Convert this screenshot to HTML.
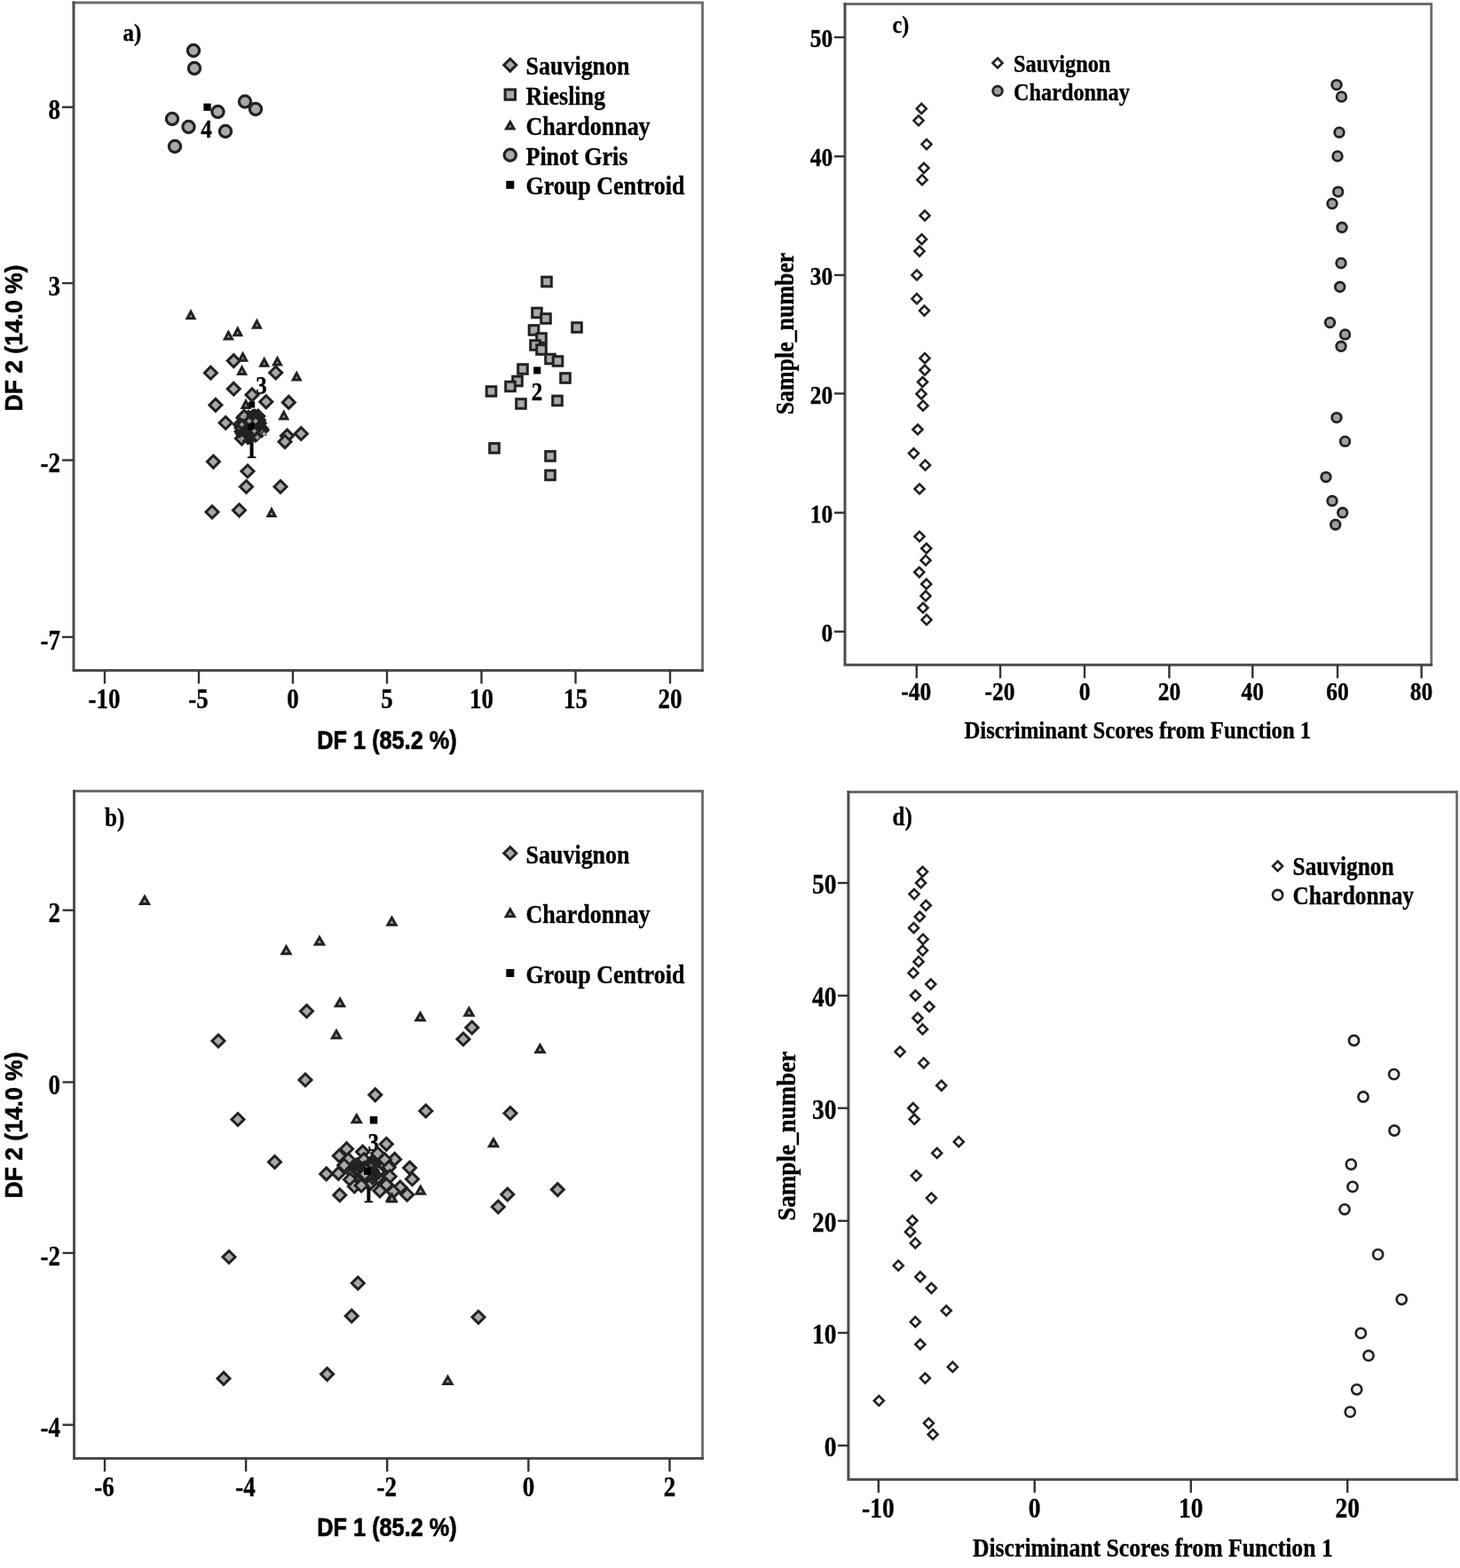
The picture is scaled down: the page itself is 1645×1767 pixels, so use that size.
<!DOCTYPE html>
<html><head><meta charset="utf-8"><title>Discriminant analysis plots</title>
<style>html,body{margin:0;padding:0;background:#fff}svg{display:block}text{fill:#000}</style></head>
<body><svg width="1645" height="1767" viewBox="0 0 1645 1767">
<rect width="1645" height="1767" fill="#fff"/>
<path d="M83 3H791.5V755.5" fill="none" stroke="#6c6c6c" stroke-width="2.8" stroke-linecap="square"/>
<path d="M83 3V755.5H791.5" fill="none" stroke="#4c4c4c" stroke-width="3.0" stroke-linecap="square"/>
<line x1="118" y1="755.5" x2="118" y2="770.5" stroke="#333" stroke-width="2.4"/>
<text transform="translate(117.5,797.5) scale(1.0,1.16)" font-size="27" text-anchor="middle" font-family="Liberation Serif, serif" font-weight="bold" stroke="#000" stroke-width="0.3">-10</text>
<line x1="224" y1="755.5" x2="224" y2="770.5" stroke="#333" stroke-width="2.4"/>
<text transform="translate(223.5,797.5) scale(1.0,1.16)" font-size="27" text-anchor="middle" font-family="Liberation Serif, serif" font-weight="bold" stroke="#000" stroke-width="0.3">-5</text>
<line x1="330" y1="755.5" x2="330" y2="770.5" stroke="#333" stroke-width="2.4"/>
<text transform="translate(330.0,797.5) scale(1.0,1.16)" font-size="27" text-anchor="middle" font-family="Liberation Serif, serif" font-weight="bold" stroke="#000" stroke-width="0.3">0</text>
<line x1="436" y1="755.5" x2="436" y2="770.5" stroke="#333" stroke-width="2.4"/>
<text transform="translate(436.0,797.5) scale(1.0,1.16)" font-size="27" text-anchor="middle" font-family="Liberation Serif, serif" font-weight="bold" stroke="#000" stroke-width="0.3">5</text>
<line x1="542.5" y1="755.5" x2="542.5" y2="770.5" stroke="#333" stroke-width="2.4"/>
<text transform="translate(542.5,797.5) scale(1.0,1.16)" font-size="27" text-anchor="middle" font-family="Liberation Serif, serif" font-weight="bold" stroke="#000" stroke-width="0.3">10</text>
<line x1="648.5" y1="755.5" x2="648.5" y2="770.5" stroke="#333" stroke-width="2.4"/>
<text transform="translate(648.5,797.5) scale(1.0,1.16)" font-size="27" text-anchor="middle" font-family="Liberation Serif, serif" font-weight="bold" stroke="#000" stroke-width="0.3">15</text>
<line x1="755" y1="755.5" x2="755" y2="770.5" stroke="#333" stroke-width="2.4"/>
<text transform="translate(755.0,797.5) scale(1.0,1.16)" font-size="27" text-anchor="middle" font-family="Liberation Serif, serif" font-weight="bold" stroke="#000" stroke-width="0.3">20</text>
<line x1="70" y1="120.75" x2="83" y2="120.75" stroke="#333" stroke-width="2.4"/>
<text transform="translate(68.0,134.3) scale(1.0,1.16)" font-size="27" text-anchor="end" font-family="Liberation Serif, serif" font-weight="bold" stroke="#000" stroke-width="0.3">8</text>
<line x1="70" y1="319.1" x2="83" y2="319.1" stroke="#333" stroke-width="2.4"/>
<text transform="translate(68.0,332.7) scale(1.0,1.16)" font-size="27" text-anchor="end" font-family="Liberation Serif, serif" font-weight="bold" stroke="#000" stroke-width="0.3">3</text>
<line x1="70" y1="518.6" x2="83" y2="518.6" stroke="#333" stroke-width="2.4"/>
<text transform="translate(68.0,532.2) scale(1.0,1.16)" font-size="27" text-anchor="end" font-family="Liberation Serif, serif" font-weight="bold" stroke="#000" stroke-width="0.3">-2</text>
<line x1="70" y1="717.9" x2="83" y2="717.9" stroke="#333" stroke-width="2.4"/>
<text transform="translate(68.0,731.5) scale(1.0,1.16)" font-size="27" text-anchor="end" font-family="Liberation Serif, serif" font-weight="bold" stroke="#000" stroke-width="0.3">-7</text>
<text transform="translate(138.5,46.1) scale(1.0,1.12)" font-size="25" text-anchor="start" font-family="Liberation Serif, serif" font-weight="bold" stroke="#000" stroke-width="0.3">a)</text>
<text transform="translate(232.4,154.7) scale(1.0,1.22)" font-size="25" text-anchor="middle" font-family="Liberation Serif, serif" font-weight="bold" stroke="#000" stroke-width="0.3">4</text>
<text transform="translate(605.0,450.8) scale(1.0,1.22)" font-size="25" text-anchor="middle" font-family="Liberation Serif, serif" font-weight="bold" stroke="#000" stroke-width="0.3">2</text>
<text transform="translate(294.5,444.0) scale(1.0,1.22)" font-size="25" text-anchor="middle" font-family="Liberation Serif, serif" font-weight="bold" stroke="#000" stroke-width="0.3">3</text>
<text transform="translate(283.3,516.0) scale(1.0,1.22)" font-size="25" text-anchor="middle" font-family="Liberation Serif, serif" font-weight="bold" stroke="#000" stroke-width="0.3">1</text>
<circle cx="218.0" cy="57.0" r="6.6" fill="#a9a9a9" stroke="#222" stroke-width="3.2"/>
<circle cx="219.0" cy="77.0" r="6.6" fill="#a9a9a9" stroke="#222" stroke-width="3.2"/>
<circle cx="276.0" cy="114.5" r="6.6" fill="#a9a9a9" stroke="#222" stroke-width="3.2"/>
<circle cx="288.0" cy="123.0" r="6.6" fill="#a9a9a9" stroke="#222" stroke-width="3.2"/>
<circle cx="245.5" cy="126.0" r="6.6" fill="#a9a9a9" stroke="#222" stroke-width="3.2"/>
<circle cx="194.0" cy="134.0" r="6.6" fill="#a9a9a9" stroke="#222" stroke-width="3.2"/>
<circle cx="212.5" cy="143.0" r="6.6" fill="#a9a9a9" stroke="#222" stroke-width="3.2"/>
<circle cx="254.0" cy="148.0" r="6.6" fill="#a9a9a9" stroke="#222" stroke-width="3.2"/>
<circle cx="197.0" cy="165.0" r="6.6" fill="#a9a9a9" stroke="#222" stroke-width="3.2"/>
<rect x="229.4" y="116.6" width="8.3" height="8.3" fill="#000"/>
<rect x="610.7" y="312.2" width="10.6" height="10.6" fill="#a9a9a9" stroke="#222" stroke-width="3.0"/>
<rect x="599.7" y="347.2" width="10.6" height="10.6" fill="#a9a9a9" stroke="#222" stroke-width="3.0"/>
<rect x="609.7" y="353.7" width="10.6" height="10.6" fill="#a9a9a9" stroke="#222" stroke-width="3.0"/>
<rect x="644.7" y="363.7" width="10.6" height="10.6" fill="#a9a9a9" stroke="#222" stroke-width="3.0"/>
<rect x="596.2" y="366.7" width="10.6" height="10.6" fill="#a9a9a9" stroke="#222" stroke-width="3.0"/>
<rect x="604.7" y="375.7" width="10.6" height="10.6" fill="#a9a9a9" stroke="#222" stroke-width="3.0"/>
<rect x="597.7" y="383.7" width="10.6" height="10.6" fill="#a9a9a9" stroke="#222" stroke-width="3.0"/>
<rect x="604.7" y="388.7" width="10.6" height="10.6" fill="#a9a9a9" stroke="#222" stroke-width="3.0"/>
<rect x="614.7" y="399.2" width="10.6" height="10.6" fill="#a9a9a9" stroke="#222" stroke-width="3.0"/>
<rect x="623.2" y="401.7" width="10.6" height="10.6" fill="#a9a9a9" stroke="#222" stroke-width="3.0"/>
<rect x="583.7" y="410.7" width="10.6" height="10.6" fill="#a9a9a9" stroke="#222" stroke-width="3.0"/>
<rect x="631.7" y="420.7" width="10.6" height="10.6" fill="#a9a9a9" stroke="#222" stroke-width="3.0"/>
<rect x="577.7" y="424.2" width="10.6" height="10.6" fill="#a9a9a9" stroke="#222" stroke-width="3.0"/>
<rect x="569.7" y="430.2" width="10.6" height="10.6" fill="#a9a9a9" stroke="#222" stroke-width="3.0"/>
<rect x="548.2" y="435.7" width="10.6" height="10.6" fill="#a9a9a9" stroke="#222" stroke-width="3.0"/>
<rect x="581.7" y="449.7" width="10.6" height="10.6" fill="#a9a9a9" stroke="#222" stroke-width="3.0"/>
<rect x="622.7" y="446.2" width="10.6" height="10.6" fill="#a9a9a9" stroke="#222" stroke-width="3.0"/>
<rect x="551.7" y="499.7" width="10.6" height="10.6" fill="#a9a9a9" stroke="#222" stroke-width="3.0"/>
<rect x="614.7" y="508.7" width="10.6" height="10.6" fill="#a9a9a9" stroke="#222" stroke-width="3.0"/>
<rect x="614.7" y="530.2" width="10.6" height="10.6" fill="#a9a9a9" stroke="#222" stroke-width="3.0"/>
<rect x="601.2" y="413.4" width="8.1" height="8.1" fill="#000"/>
<path d="M215.0 351.3L219.0 358.8L211.0 358.8Z" fill="#a9a9a9" stroke="#222" stroke-width="3.0" stroke-linejoin="miter"/>
<path d="M289.4 361.7L293.4 369.2L285.4 369.2Z" fill="#a9a9a9" stroke="#222" stroke-width="3.0" stroke-linejoin="miter"/>
<path d="M267.8 370.2L271.8 377.7L263.8 377.7Z" fill="#a9a9a9" stroke="#222" stroke-width="3.0" stroke-linejoin="miter"/>
<path d="M257.4 374.4L261.4 381.9L253.4 381.9Z" fill="#a9a9a9" stroke="#222" stroke-width="3.0" stroke-linejoin="miter"/>
<path d="M273.6 398.7L277.6 406.2L269.6 406.2Z" fill="#a9a9a9" stroke="#222" stroke-width="3.0" stroke-linejoin="miter"/>
<path d="M297.7 404.8L301.7 412.3L293.7 412.3Z" fill="#a9a9a9" stroke="#222" stroke-width="3.0" stroke-linejoin="miter"/>
<path d="M312.5 403.6L316.5 411.1L308.5 411.1Z" fill="#a9a9a9" stroke="#222" stroke-width="3.0" stroke-linejoin="miter"/>
<path d="M272.6 413.9L276.6 421.4L268.6 421.4Z" fill="#a9a9a9" stroke="#222" stroke-width="3.0" stroke-linejoin="miter"/>
<path d="M334.2 420.6L338.2 428.1L330.2 428.1Z" fill="#a9a9a9" stroke="#222" stroke-width="3.0" stroke-linejoin="miter"/>
<path d="M319.8 464.4L323.8 471.9L315.8 471.9Z" fill="#a9a9a9" stroke="#222" stroke-width="3.0" stroke-linejoin="miter"/>
<path d="M277.0 452.0L281.0 459.5L273.0 459.5Z" fill="#a9a9a9" stroke="#222" stroke-width="3.0" stroke-linejoin="miter"/>
<path d="M306.0 574.0L310.0 581.5L302.0 581.5Z" fill="#a9a9a9" stroke="#222" stroke-width="3.0" stroke-linejoin="miter"/>
<path d="M263.3 399.6L270.3 406.6L263.3 413.6L256.3 406.6Z" fill="#a9a9a9" stroke="#222" stroke-width="3.0" stroke-linejoin="miter"/>
<path d="M237.4 413.2L244.4 420.2L237.4 427.2L230.4 420.2Z" fill="#a9a9a9" stroke="#222" stroke-width="3.0" stroke-linejoin="miter"/>
<path d="M310.7 413.0L317.7 420.0L310.7 427.0L303.7 420.0Z" fill="#a9a9a9" stroke="#222" stroke-width="3.0" stroke-linejoin="miter"/>
<path d="M263.3 431.2L270.3 438.2L263.3 445.2L256.3 438.2Z" fill="#a9a9a9" stroke="#222" stroke-width="3.0" stroke-linejoin="miter"/>
<path d="M284.0 437.9L291.0 444.9L284.0 451.9L277.0 444.9Z" fill="#a9a9a9" stroke="#222" stroke-width="3.0" stroke-linejoin="miter"/>
<path d="M299.8 445.8L306.8 452.8L299.8 459.8L292.8 452.8Z" fill="#a9a9a9" stroke="#222" stroke-width="3.0" stroke-linejoin="miter"/>
<path d="M325.3 446.4L332.3 453.4L325.3 460.4L318.3 453.4Z" fill="#a9a9a9" stroke="#222" stroke-width="3.0" stroke-linejoin="miter"/>
<path d="M242.9 449.4L249.9 456.4L242.9 463.4L235.9 456.4Z" fill="#a9a9a9" stroke="#222" stroke-width="3.0" stroke-linejoin="miter"/>
<path d="M254.2 469.5L261.2 476.5L254.2 483.5L247.2 476.5Z" fill="#a9a9a9" stroke="#222" stroke-width="3.0" stroke-linejoin="miter"/>
<path d="M339.3 481.7L346.3 488.7L339.3 495.7L332.3 488.7Z" fill="#a9a9a9" stroke="#222" stroke-width="3.0" stroke-linejoin="miter"/>
<path d="M323.5 484.1L330.5 491.1L323.5 498.1L316.5 491.1Z" fill="#a9a9a9" stroke="#222" stroke-width="3.0" stroke-linejoin="miter"/>
<path d="M321.0 490.8L328.0 497.8L321.0 504.8L314.0 497.8Z" fill="#a9a9a9" stroke="#222" stroke-width="3.0" stroke-linejoin="miter"/>
<path d="M272.4 487.1L279.4 494.1L272.4 501.1L265.4 494.1Z" fill="#a9a9a9" stroke="#222" stroke-width="3.0" stroke-linejoin="miter"/>
<path d="M240.4 513.3L247.4 520.3L240.4 527.3L233.4 520.3Z" fill="#a9a9a9" stroke="#222" stroke-width="3.0" stroke-linejoin="miter"/>
<path d="M279.0 524.0L286.0 531.0L279.0 538.0L272.0 531.0Z" fill="#a9a9a9" stroke="#222" stroke-width="3.0" stroke-linejoin="miter"/>
<path d="M277.5 541.5L284.5 548.5L277.5 555.5L270.5 548.5Z" fill="#a9a9a9" stroke="#222" stroke-width="3.0" stroke-linejoin="miter"/>
<path d="M316.0 541.5L323.0 548.5L316.0 555.5L309.0 548.5Z" fill="#a9a9a9" stroke="#222" stroke-width="3.0" stroke-linejoin="miter"/>
<path d="M239.0 570.0L246.0 577.0L239.0 584.0L232.0 577.0Z" fill="#a9a9a9" stroke="#222" stroke-width="3.0" stroke-linejoin="miter"/>
<path d="M269.5 568.0L276.5 575.0L269.5 582.0L262.5 575.0Z" fill="#a9a9a9" stroke="#222" stroke-width="3.0" stroke-linejoin="miter"/>
<path d="M281.1 482.4L285.1 489.9L277.1 489.9Z" fill="#a9a9a9" stroke="#222" stroke-width="3.0" stroke-linejoin="miter"/>
<path d="M281.3 470.4L288.3 477.4L281.3 484.4L274.3 477.4Z" fill="#a9a9a9" stroke="#222" stroke-width="3.0" stroke-linejoin="miter"/>
<path d="M275.2 471.6L282.2 478.6L275.2 485.6L268.2 478.6Z" fill="#a9a9a9" stroke="#222" stroke-width="3.0" stroke-linejoin="miter"/>
<path d="M292.8 477.1L299.8 484.1L292.8 491.1L285.8 484.1Z" fill="#a9a9a9" stroke="#222" stroke-width="3.0" stroke-linejoin="miter"/>
<path d="M292.5 475.7L299.5 482.7L292.5 489.7L285.5 482.7Z" fill="#a9a9a9" stroke="#222" stroke-width="3.0" stroke-linejoin="miter"/>
<path d="M287.3 479.3L291.3 486.8L283.3 486.8Z" fill="#a9a9a9" stroke="#222" stroke-width="3.0" stroke-linejoin="miter"/>
<path d="M272.2 479.3L279.2 486.3L272.2 493.3L265.2 486.3Z" fill="#a9a9a9" stroke="#222" stroke-width="3.0" stroke-linejoin="miter"/>
<path d="M288.2 478.1L295.2 485.1L288.2 492.1L281.2 485.1Z" fill="#a9a9a9" stroke="#222" stroke-width="3.0" stroke-linejoin="miter"/>
<path d="M274.0 463.7L281.0 470.7L274.0 477.7L267.0 470.7Z" fill="#a9a9a9" stroke="#222" stroke-width="3.0" stroke-linejoin="miter"/>
<path d="M275.7 469.4L282.7 476.4L275.7 483.4L268.7 476.4Z" fill="#a9a9a9" stroke="#222" stroke-width="3.0" stroke-linejoin="miter"/>
<path d="M286.5 477.1L290.5 484.6L282.5 484.6Z" fill="#a9a9a9" stroke="#222" stroke-width="3.0" stroke-linejoin="miter"/>
<path d="M288.2 467.6L295.2 474.6L288.2 481.6L281.2 474.6Z" fill="#a9a9a9" stroke="#222" stroke-width="3.0" stroke-linejoin="miter"/>
<path d="M286.5 477.3L293.5 484.3L286.5 491.3L279.5 484.3Z" fill="#a9a9a9" stroke="#222" stroke-width="3.0" stroke-linejoin="miter"/>
<path d="M279.0 485.3L286.0 492.3L279.0 499.3L272.0 492.3Z" fill="#a9a9a9" stroke="#222" stroke-width="3.0" stroke-linejoin="miter"/>
<path d="M288.0 483.2L295.0 490.2L288.0 497.2L281.0 490.2Z" fill="#a9a9a9" stroke="#222" stroke-width="3.0" stroke-linejoin="miter"/>
<path d="M278.0 471.0L282.0 478.5L274.0 478.5Z" fill="#a9a9a9" stroke="#222" stroke-width="3.0" stroke-linejoin="miter"/>
<path d="M280.1 472.5L287.1 479.5L280.1 486.5L273.1 479.5Z" fill="#a9a9a9" stroke="#222" stroke-width="3.0" stroke-linejoin="miter"/>
<path d="M289.4 475.8L296.4 482.8L289.4 489.8L282.4 482.8Z" fill="#a9a9a9" stroke="#222" stroke-width="3.0" stroke-linejoin="miter"/>
<path d="M279.6 465.2L286.6 472.2L279.6 479.2L272.6 472.2Z" fill="#a9a9a9" stroke="#222" stroke-width="3.0" stroke-linejoin="miter"/>
<path d="M279.3 483.4L286.3 490.4L279.3 497.4L272.3 490.4Z" fill="#a9a9a9" stroke="#222" stroke-width="3.0" stroke-linejoin="miter"/>
<path d="M276.2 479.7L280.2 487.2L272.2 487.2Z" fill="#a9a9a9" stroke="#222" stroke-width="3.0" stroke-linejoin="miter"/>
<path d="M286.7 462.2L293.7 469.2L286.7 476.2L279.7 469.2Z" fill="#a9a9a9" stroke="#222" stroke-width="3.0" stroke-linejoin="miter"/>
<path d="M283.9 484.1L290.9 491.1L283.9 498.1L276.9 491.1Z" fill="#a9a9a9" stroke="#222" stroke-width="3.0" stroke-linejoin="miter"/>
<path d="M270.6 471.4L277.6 478.4L270.6 485.4L263.6 478.4Z" fill="#a9a9a9" stroke="#222" stroke-width="3.0" stroke-linejoin="miter"/>
<path d="M282.5 466.1L289.5 473.1L282.5 480.1L275.5 473.1Z" fill="#a9a9a9" stroke="#222" stroke-width="3.0" stroke-linejoin="miter"/>
<path d="M288.3 476.9L292.3 484.4L284.3 484.4Z" fill="#a9a9a9" stroke="#222" stroke-width="3.0" stroke-linejoin="miter"/>
<path d="M272.9 479.5L279.9 486.5L272.9 493.5L265.9 486.5Z" fill="#a9a9a9" stroke="#222" stroke-width="3.0" stroke-linejoin="miter"/>
<path d="M289.2 481.5L296.2 488.5L289.2 495.5L282.2 488.5Z" fill="#a9a9a9" stroke="#222" stroke-width="3.0" stroke-linejoin="miter"/>
<path d="M294.6 476.3L301.6 483.3L294.6 490.3L287.6 483.3Z" fill="#a9a9a9" stroke="#222" stroke-width="3.0" stroke-linejoin="miter"/>
<path d="M284.5 462.9L291.5 469.9L284.5 476.9L277.5 469.9Z" fill="#a9a9a9" stroke="#222" stroke-width="3.0" stroke-linejoin="miter"/>
<path d="M289.1 472.0L293.1 479.5L285.1 479.5Z" fill="#a9a9a9" stroke="#222" stroke-width="3.0" stroke-linejoin="miter"/>
<path d="M279.9 463.3L286.9 470.3L279.9 477.3L272.9 470.3Z" fill="#a9a9a9" stroke="#222" stroke-width="3.0" stroke-linejoin="miter"/>
<path d="M275.2 468.9L282.2 475.9L275.2 482.9L268.2 475.9Z" fill="#a9a9a9" stroke="#222" stroke-width="3.0" stroke-linejoin="miter"/>
<path d="M290.8 462.0L297.8 469.0L290.8 476.0L283.8 469.0Z" fill="#a9a9a9" stroke="#222" stroke-width="3.0" stroke-linejoin="miter"/>
<path d="M272.2 475.3L279.2 482.3L272.2 489.3L265.2 482.3Z" fill="#a9a9a9" stroke="#222" stroke-width="3.0" stroke-linejoin="miter"/>
<path d="M294.4 481.9L298.4 489.4L290.4 489.4Z" fill="#a9a9a9" stroke="#222" stroke-width="3.0" stroke-linejoin="miter"/>
<path d="M275.1 462.4L282.1 469.4L275.1 476.4L268.1 469.4Z" fill="#a9a9a9" stroke="#222" stroke-width="3.0" stroke-linejoin="miter"/>
<path d="M286.8 466.8L293.8 473.8L286.8 480.8L279.8 473.8Z" fill="#a9a9a9" stroke="#222" stroke-width="3.0" stroke-linejoin="miter"/>
<path d="M274.9 481.0L281.9 488.0L274.9 495.0L267.9 488.0Z" fill="#a9a9a9" stroke="#222" stroke-width="3.0" stroke-linejoin="miter"/>
<path d="M292.9 474.8L299.9 481.8L292.9 488.8L285.9 481.8Z" fill="#a9a9a9" stroke="#222" stroke-width="3.0" stroke-linejoin="miter"/>
<path d="M285.9 481.7L289.9 489.2L281.9 489.2Z" fill="#a9a9a9" stroke="#222" stroke-width="3.0" stroke-linejoin="miter"/>
<path d="M294.9 477.9L301.9 484.9L294.9 491.9L287.9 484.9Z" fill="#a9a9a9" stroke="#222" stroke-width="3.0" stroke-linejoin="miter"/>
<path d="M288.3 478.6L295.3 485.6L288.3 492.6L281.3 485.6Z" fill="#a9a9a9" stroke="#222" stroke-width="3.0" stroke-linejoin="miter"/>
<path d="M273.4 481.8L280.4 488.8L273.4 495.8L266.4 488.8Z" fill="#a9a9a9" stroke="#222" stroke-width="3.0" stroke-linejoin="miter"/>
<path d="M291.7 478.1L298.7 485.1L291.7 492.1L284.7 485.1Z" fill="#a9a9a9" stroke="#222" stroke-width="3.0" stroke-linejoin="miter"/>
<path d="M271.0 473.5L275.0 481.0L267.0 481.0Z" fill="#a9a9a9" stroke="#222" stroke-width="3.0" stroke-linejoin="miter"/>
<path d="M287.8 462.9L294.8 469.9L287.8 476.9L280.8 469.9Z" fill="none" stroke="#222" stroke-width="3.0" stroke-linejoin="miter"/>
<path d="M282.2 480.6L289.2 487.6L282.2 494.6L275.2 487.6Z" fill="none" stroke="#222" stroke-width="3.0" stroke-linejoin="miter"/>
<path d="M277.0 481.7L284.0 488.7L277.0 495.7L270.0 488.7Z" fill="none" stroke="#222" stroke-width="3.0" stroke-linejoin="miter"/>
<path d="M287.6 471.8L294.6 478.8L287.6 485.8L280.6 478.8Z" fill="none" stroke="#222" stroke-width="3.0" stroke-linejoin="miter"/>
<path d="M285.9 478.2L292.9 485.2L285.9 492.2L278.9 485.2Z" fill="none" stroke="#222" stroke-width="3.0" stroke-linejoin="miter"/>
<path d="M284.3 481.3L291.3 488.3L284.3 495.3L277.3 488.3Z" fill="none" stroke="#222" stroke-width="3.0" stroke-linejoin="miter"/>
<path d="M278.7 469.7L285.7 476.7L278.7 483.7L271.7 476.7Z" fill="none" stroke="#222" stroke-width="3.0" stroke-linejoin="miter"/>
<path d="M290.6 473.2L297.6 480.2L290.6 487.2L283.6 480.2Z" fill="none" stroke="#222" stroke-width="3.0" stroke-linejoin="miter"/>
<path d="M277.9 479.6L284.9 486.6L277.9 493.6L270.9 486.6Z" fill="none" stroke="#222" stroke-width="3.0" stroke-linejoin="miter"/>
<path d="M292.2 470.1L299.2 477.1L292.2 484.1L285.2 477.1Z" fill="none" stroke="#222" stroke-width="3.0" stroke-linejoin="miter"/>
<path d="M274.9 472.1L281.9 479.1L274.9 486.1L267.9 479.1Z" fill="none" stroke="#222" stroke-width="3.0" stroke-linejoin="miter"/>
<path d="M282.4 470.5L289.4 477.5L282.4 484.5L275.4 477.5Z" fill="none" stroke="#222" stroke-width="3.0" stroke-linejoin="miter"/>
<path d="M291.3 466.7L298.3 473.7L291.3 480.7L284.3 473.7Z" fill="none" stroke="#222" stroke-width="3.0" stroke-linejoin="miter"/>
<path d="M290.4 465.4L297.4 472.4L290.4 479.4L283.4 472.4Z" fill="none" stroke="#222" stroke-width="3.0" stroke-linejoin="miter"/>
<rect x="279.0" y="477.0" width="8" height="8" fill="#000"/>
<rect x="280.2" y="452.5" width="7" height="7" fill="#000"/>
<path d="M275 467.0L277.8 469.8L275 472.6L272.2 469.8Z" fill="#9a9a9a"/>
<path d="M280.8 471.8L283.6 474.6L280.8 477.40000000000003L278.0 474.6Z" fill="#9a9a9a"/>
<path d="M288 471.8L290.8 474.6L288 477.40000000000003L285.2 474.6Z" fill="#9a9a9a"/>
<path d="M272.6 475.7L275.40000000000003 478.5L272.6 481.3L269.8 478.5Z" fill="#9a9a9a"/>
<path d="M286.5 482.9L289.3 485.7L286.5 488.5L283.7 485.7Z" fill="#9a9a9a"/>
<path d="M289.9 490.09999999999997L292.7 492.9L289.9 495.7L287.09999999999997 492.9Z" fill="#9a9a9a"/>
<path d="M297.6 486.2L300.40000000000003 489L297.6 491.8L294.8 489Z" fill="#9a9a9a"/>
<path d="M272.6 491.5L275.40000000000003 494.3L272.6 497.1L269.8 494.3Z" fill="#9a9a9a"/>
<path d="M574.8 66.3L581.8 73.3L574.8 80.3L567.8 73.3Z" fill="#a9a9a9" stroke="#222" stroke-width="3.0" stroke-linejoin="miter"/>
<rect x="569.1" y="100.9" width="11.4" height="11.4" fill="#a9a9a9" stroke="#222" stroke-width="3.0"/>
<path d="M574.8 137.5L579.0 145.0L570.5 145.0Z" fill="#a9a9a9" stroke="#222" stroke-width="3.0" stroke-linejoin="miter"/>
<circle cx="574.8" cy="174.7" r="6.6" fill="#a9a9a9" stroke="#222" stroke-width="3.2"/>
<rect x="570.3" y="203.8" width="9" height="9" fill="#000"/>
<text transform="translate(592.5,84.3) scale(1.0,1.13)" font-size="26" text-anchor="start" font-family="Liberation Serif, serif" font-weight="bold" stroke="#000" stroke-width="0.3">Sauvignon</text>
<text transform="translate(592.5,117.8) scale(1.0,1.13)" font-size="26" text-anchor="start" font-family="Liberation Serif, serif" font-weight="bold" stroke="#000" stroke-width="0.3">Riesling</text>
<text transform="translate(592.5,152.1) scale(1.0,1.13)" font-size="26" text-anchor="start" font-family="Liberation Serif, serif" font-weight="bold" stroke="#000" stroke-width="0.3">Chardonnay</text>
<text transform="translate(592.5,186.4) scale(1.0,1.13)" font-size="26" text-anchor="start" font-family="Liberation Serif, serif" font-weight="bold" stroke="#000" stroke-width="0.3">Pinot Gris</text>
<text transform="translate(592.5,219.2) scale(1.0,1.13)" font-size="26" text-anchor="start" font-family="Liberation Serif, serif" font-weight="bold" stroke="#000" stroke-width="0.3">Group Centroid</text>
<text transform="translate(436.0,844.4) scale(1.0,1.16)" font-size="25.3" text-anchor="middle" font-family="Liberation Sans, sans-serif" font-weight="bold" stroke="#000" stroke-width="0.55">DF 1 (85.2 %)</text>
<text transform="translate(25.0,381.0) rotate(-90) scale(1.0,1.07)" font-size="26.5" text-anchor="middle" font-family="Liberation Sans, sans-serif" font-weight="bold" stroke="#000" stroke-width="0.55">DF 2 (14.0 %)</text>
<path d="M83.5 891.5H791.5V1643.4" fill="none" stroke="#6c6c6c" stroke-width="2.8" stroke-linecap="square"/>
<path d="M83.5 891.5V1643.4H791.5" fill="none" stroke="#4c4c4c" stroke-width="3.0" stroke-linecap="square"/>
<line x1="118" y1="1643.4" x2="118" y2="1658.4" stroke="#333" stroke-width="2.4"/>
<text transform="translate(117.5,1685.5) scale(1.0,1.16)" font-size="27" text-anchor="middle" font-family="Liberation Serif, serif" font-weight="bold" stroke="#000" stroke-width="0.3">-6</text>
<line x1="277.1" y1="1643.4" x2="277.1" y2="1658.4" stroke="#333" stroke-width="2.4"/>
<text transform="translate(276.6,1685.5) scale(1.0,1.16)" font-size="27" text-anchor="middle" font-family="Liberation Serif, serif" font-weight="bold" stroke="#000" stroke-width="0.3">-4</text>
<line x1="436.2" y1="1643.4" x2="436.2" y2="1658.4" stroke="#333" stroke-width="2.4"/>
<text transform="translate(435.7,1685.5) scale(1.0,1.16)" font-size="27" text-anchor="middle" font-family="Liberation Serif, serif" font-weight="bold" stroke="#000" stroke-width="0.3">-2</text>
<line x1="595.4" y1="1643.4" x2="595.4" y2="1658.4" stroke="#333" stroke-width="2.4"/>
<text transform="translate(595.4,1685.5) scale(1.0,1.16)" font-size="27" text-anchor="middle" font-family="Liberation Serif, serif" font-weight="bold" stroke="#000" stroke-width="0.3">0</text>
<line x1="754.5" y1="1643.4" x2="754.5" y2="1658.4" stroke="#333" stroke-width="2.4"/>
<text transform="translate(754.5,1685.5) scale(1.0,1.16)" font-size="27" text-anchor="middle" font-family="Liberation Serif, serif" font-weight="bold" stroke="#000" stroke-width="0.3">2</text>
<line x1="70.5" y1="1025.75" x2="83.5" y2="1025.75" stroke="#333" stroke-width="2.4"/>
<text transform="translate(68.0,1039.3) scale(1.0,1.16)" font-size="27" text-anchor="end" font-family="Liberation Serif, serif" font-weight="bold" stroke="#000" stroke-width="0.3">2</text>
<line x1="70.5" y1="1219.5" x2="83.5" y2="1219.5" stroke="#333" stroke-width="2.4"/>
<text transform="translate(68.0,1233.1) scale(1.0,1.16)" font-size="27" text-anchor="end" font-family="Liberation Serif, serif" font-weight="bold" stroke="#000" stroke-width="0.3">0</text>
<line x1="70.5" y1="1412" x2="83.5" y2="1412" stroke="#333" stroke-width="2.4"/>
<text transform="translate(68.0,1425.6) scale(1.0,1.16)" font-size="27" text-anchor="end" font-family="Liberation Serif, serif" font-weight="bold" stroke="#000" stroke-width="0.3">-2</text>
<line x1="70.5" y1="1605.7" x2="83.5" y2="1605.7" stroke="#333" stroke-width="2.4"/>
<text transform="translate(68.0,1619.3) scale(1.0,1.16)" font-size="27" text-anchor="end" font-family="Liberation Serif, serif" font-weight="bold" stroke="#000" stroke-width="0.3">-4</text>
<text transform="translate(118.0,930.7) scale(1.0,1.17)" font-size="25" text-anchor="start" font-family="Liberation Serif, serif" font-weight="bold" stroke="#000" stroke-width="0.3">b)</text>
<text transform="translate(420.7,1296.8) scale(1.0,1.22)" font-size="25" text-anchor="middle" font-family="Liberation Serif, serif" font-weight="bold" stroke="#000" stroke-width="0.3">3</text>
<text transform="translate(414.9,1355.0) scale(1.0,1.22)" font-size="25" text-anchor="middle" font-family="Liberation Serif, serif" font-weight="bold" stroke="#000" stroke-width="0.3">1</text>
<path d="M163.0 1010.5L167.6 1018.5L158.4 1018.5Z" fill="#a9a9a9" stroke="#222" stroke-width="3.0" stroke-linejoin="miter"/>
<path d="M322.5 1066.8L327.1 1074.8L317.9 1074.8Z" fill="#a9a9a9" stroke="#222" stroke-width="3.0" stroke-linejoin="miter"/>
<path d="M360.0 1056.2L364.6 1064.2L355.4 1064.2Z" fill="#a9a9a9" stroke="#222" stroke-width="3.0" stroke-linejoin="miter"/>
<path d="M383.0 1125.8L387.6 1133.8L378.4 1133.8Z" fill="#a9a9a9" stroke="#222" stroke-width="3.0" stroke-linejoin="miter"/>
<path d="M379.0 1161.8L383.6 1169.8L374.4 1169.8Z" fill="#a9a9a9" stroke="#222" stroke-width="3.0" stroke-linejoin="miter"/>
<path d="M401.8 1256.8L406.4 1264.8L397.1 1264.8Z" fill="#a9a9a9" stroke="#222" stroke-width="3.0" stroke-linejoin="miter"/>
<path d="M441.5 1034.2L446.1 1042.2L436.9 1042.2Z" fill="#a9a9a9" stroke="#222" stroke-width="3.0" stroke-linejoin="miter"/>
<path d="M473.5 1141.8L478.1 1149.8L468.9 1149.8Z" fill="#a9a9a9" stroke="#222" stroke-width="3.0" stroke-linejoin="miter"/>
<path d="M528.5 1136.2L533.1 1144.2L523.9 1144.2Z" fill="#a9a9a9" stroke="#222" stroke-width="3.0" stroke-linejoin="miter"/>
<path d="M608.5 1177.8L613.1 1185.8L603.9 1185.8Z" fill="#a9a9a9" stroke="#222" stroke-width="3.0" stroke-linejoin="miter"/>
<path d="M556.0 1283.8L560.6 1291.8L551.4 1291.8Z" fill="#a9a9a9" stroke="#222" stroke-width="3.0" stroke-linejoin="miter"/>
<path d="M473.8 1337.3L478.4 1345.3L469.2 1345.3Z" fill="#a9a9a9" stroke="#222" stroke-width="3.0" stroke-linejoin="miter"/>
<path d="M441.0 1344.8L445.6 1352.8L436.4 1352.8Z" fill="#a9a9a9" stroke="#222" stroke-width="3.0" stroke-linejoin="miter"/>
<path d="M504.5 1551.5L509.1 1559.5L499.9 1559.5Z" fill="#a9a9a9" stroke="#222" stroke-width="3.0" stroke-linejoin="miter"/>
<path d="M345.5 1132.5L352.5 1139.5L345.5 1146.5L338.5 1139.5Z" fill="#a9a9a9" stroke="#222" stroke-width="3.0" stroke-linejoin="miter"/>
<path d="M246.0 1166.0L253.0 1173.0L246.0 1180.0L239.0 1173.0Z" fill="#a9a9a9" stroke="#222" stroke-width="3.0" stroke-linejoin="miter"/>
<path d="M344.0 1210.0L351.0 1217.0L344.0 1224.0L337.0 1217.0Z" fill="#a9a9a9" stroke="#222" stroke-width="3.0" stroke-linejoin="miter"/>
<path d="M268.0 1254.5L275.0 1261.5L268.0 1268.5L261.0 1261.5Z" fill="#a9a9a9" stroke="#222" stroke-width="3.0" stroke-linejoin="miter"/>
<path d="M309.5 1302.5L316.5 1309.5L309.5 1316.5L302.5 1309.5Z" fill="#a9a9a9" stroke="#222" stroke-width="3.0" stroke-linejoin="miter"/>
<path d="M531.8 1151.0L538.8 1158.0L531.8 1165.0L524.8 1158.0Z" fill="#a9a9a9" stroke="#222" stroke-width="3.0" stroke-linejoin="miter"/>
<path d="M522.0 1164.0L529.0 1171.0L522.0 1178.0L515.0 1171.0Z" fill="#a9a9a9" stroke="#222" stroke-width="3.0" stroke-linejoin="miter"/>
<path d="M422.8 1226.8L429.8 1233.8L422.8 1240.8L415.8 1233.8Z" fill="#a9a9a9" stroke="#222" stroke-width="3.0" stroke-linejoin="miter"/>
<path d="M479.8 1245.0L486.8 1252.0L479.8 1259.0L472.8 1252.0Z" fill="#a9a9a9" stroke="#222" stroke-width="3.0" stroke-linejoin="miter"/>
<path d="M575.0 1247.5L582.0 1254.5L575.0 1261.5L568.0 1254.5Z" fill="#a9a9a9" stroke="#222" stroke-width="3.0" stroke-linejoin="miter"/>
<path d="M258.0 1409.5L265.0 1416.5L258.0 1423.5L251.0 1416.5Z" fill="#a9a9a9" stroke="#222" stroke-width="3.0" stroke-linejoin="miter"/>
<path d="M403.3 1439.0L410.3 1446.0L403.3 1453.0L396.3 1446.0Z" fill="#a9a9a9" stroke="#222" stroke-width="3.0" stroke-linejoin="miter"/>
<path d="M396.2 1476.0L403.2 1483.0L396.2 1490.0L389.2 1483.0Z" fill="#a9a9a9" stroke="#222" stroke-width="3.0" stroke-linejoin="miter"/>
<path d="M368.6 1541.6L375.6 1548.6L368.6 1555.6L361.6 1548.6Z" fill="#a9a9a9" stroke="#222" stroke-width="3.0" stroke-linejoin="miter"/>
<path d="M252.0 1546.4L259.0 1553.4L252.0 1560.4L245.0 1553.4Z" fill="#a9a9a9" stroke="#222" stroke-width="3.0" stroke-linejoin="miter"/>
<path d="M628.3 1333.6L635.3 1340.6L628.3 1347.6L621.3 1340.6Z" fill="#a9a9a9" stroke="#222" stroke-width="3.0" stroke-linejoin="miter"/>
<path d="M571.8 1339.0L578.8 1346.0L571.8 1353.0L564.8 1346.0Z" fill="#a9a9a9" stroke="#222" stroke-width="3.0" stroke-linejoin="miter"/>
<path d="M561.3 1353.0L568.3 1360.0L561.3 1367.0L554.3 1360.0Z" fill="#a9a9a9" stroke="#222" stroke-width="3.0" stroke-linejoin="miter"/>
<path d="M539.0 1477.3L546.0 1484.3L539.0 1491.3L532.0 1484.3Z" fill="#a9a9a9" stroke="#222" stroke-width="3.0" stroke-linejoin="miter"/>
<path d="M435.3 1282.3L442.3 1289.3L435.3 1296.3L428.3 1289.3Z" fill="#a9a9a9" stroke="#222" stroke-width="3.0" stroke-linejoin="miter"/>
<path d="M390.6 1287.7L397.6 1294.7L390.6 1301.7L383.6 1294.7Z" fill="#a9a9a9" stroke="#222" stroke-width="3.0" stroke-linejoin="miter"/>
<path d="M408.6 1291.1L415.6 1298.1L408.6 1305.1L401.6 1298.1Z" fill="#a9a9a9" stroke="#222" stroke-width="3.0" stroke-linejoin="miter"/>
<path d="M382.3 1295.5L389.3 1302.5L382.3 1309.5L375.3 1302.5Z" fill="#a9a9a9" stroke="#222" stroke-width="3.0" stroke-linejoin="miter"/>
<path d="M425.6 1293.0L432.6 1300.0L425.6 1307.0L418.6 1300.0Z" fill="#a9a9a9" stroke="#222" stroke-width="3.0" stroke-linejoin="miter"/>
<path d="M444.6 1299.4L451.6 1306.4L444.6 1313.4L437.6 1306.4Z" fill="#a9a9a9" stroke="#222" stroke-width="3.0" stroke-linejoin="miter"/>
<path d="M392.5 1299.8L399.5 1306.8L392.5 1313.8L385.5 1306.8Z" fill="#a9a9a9" stroke="#222" stroke-width="3.0" stroke-linejoin="miter"/>
<path d="M410.0 1299.8L417.0 1306.8L410.0 1313.8L403.0 1306.8Z" fill="#a9a9a9" stroke="#222" stroke-width="3.0" stroke-linejoin="miter"/>
<path d="M433.4 1299.8L440.4 1306.8L433.4 1313.8L426.4 1306.8Z" fill="#a9a9a9" stroke="#222" stroke-width="3.0" stroke-linejoin="miter"/>
<path d="M387.7 1306.2L394.7 1313.2L387.7 1320.2L380.7 1313.2Z" fill="#a9a9a9" stroke="#222" stroke-width="3.0" stroke-linejoin="miter"/>
<path d="M402.3 1305.7L409.3 1312.7L402.3 1319.7L395.3 1312.7Z" fill="#a9a9a9" stroke="#222" stroke-width="3.0" stroke-linejoin="miter"/>
<path d="M417.8 1305.7L424.8 1312.7L417.8 1319.7L410.8 1312.7Z" fill="#a9a9a9" stroke="#222" stroke-width="3.0" stroke-linejoin="miter"/>
<path d="M438.2 1308.6L445.2 1315.6L438.2 1322.6L431.2 1315.6Z" fill="#a9a9a9" stroke="#222" stroke-width="3.0" stroke-linejoin="miter"/>
<path d="M461.6 1309.1L468.6 1316.1L461.6 1323.1L454.6 1316.1Z" fill="#a9a9a9" stroke="#222" stroke-width="3.0" stroke-linejoin="miter"/>
<path d="M367.7 1315.9L374.7 1322.9L367.7 1329.9L360.7 1322.9Z" fill="#a9a9a9" stroke="#222" stroke-width="3.0" stroke-linejoin="miter"/>
<path d="M381.3 1315.4L388.3 1322.4L381.3 1329.4L374.3 1322.4Z" fill="#a9a9a9" stroke="#222" stroke-width="3.0" stroke-linejoin="miter"/>
<path d="M397.4 1314.4L404.4 1321.4L397.4 1328.4L390.4 1321.4Z" fill="#a9a9a9" stroke="#222" stroke-width="3.0" stroke-linejoin="miter"/>
<path d="M406.1 1310.5L413.1 1317.5L406.1 1324.5L399.1 1317.5Z" fill="#a9a9a9" stroke="#222" stroke-width="3.0" stroke-linejoin="miter"/>
<path d="M414.9 1314.4L421.9 1321.4L414.9 1328.4L407.9 1321.4Z" fill="#a9a9a9" stroke="#222" stroke-width="3.0" stroke-linejoin="miter"/>
<path d="M425.6 1320.3L432.6 1327.3L425.6 1334.3L418.6 1327.3Z" fill="#a9a9a9" stroke="#222" stroke-width="3.0" stroke-linejoin="miter"/>
<path d="M439.2 1318.8L446.2 1325.8L439.2 1332.8L432.2 1325.8Z" fill="#a9a9a9" stroke="#222" stroke-width="3.0" stroke-linejoin="miter"/>
<path d="M464.5 1321.7L471.5 1328.7L464.5 1335.7L457.5 1328.7Z" fill="#a9a9a9" stroke="#222" stroke-width="3.0" stroke-linejoin="miter"/>
<path d="M394.5 1322.2L401.5 1329.2L394.5 1336.2L387.5 1329.2Z" fill="#a9a9a9" stroke="#222" stroke-width="3.0" stroke-linejoin="miter"/>
<path d="M407.1 1320.3L414.1 1327.3L407.1 1334.3L400.1 1327.3Z" fill="#a9a9a9" stroke="#222" stroke-width="3.0" stroke-linejoin="miter"/>
<path d="M417.8 1326.1L424.8 1333.1L417.8 1340.1L410.8 1333.1Z" fill="#a9a9a9" stroke="#222" stroke-width="3.0" stroke-linejoin="miter"/>
<path d="M399.3 1330.0L406.3 1337.0L399.3 1344.0L392.3 1337.0Z" fill="#a9a9a9" stroke="#222" stroke-width="3.0" stroke-linejoin="miter"/>
<path d="M407.1 1329.0L414.1 1336.0L407.1 1343.0L400.1 1336.0Z" fill="#a9a9a9" stroke="#222" stroke-width="3.0" stroke-linejoin="miter"/>
<path d="M435.3 1328.1L442.3 1335.1L435.3 1342.1L428.3 1335.1Z" fill="#a9a9a9" stroke="#222" stroke-width="3.0" stroke-linejoin="miter"/>
<path d="M450.9 1331.0L457.9 1338.0L450.9 1345.0L443.9 1338.0Z" fill="#a9a9a9" stroke="#222" stroke-width="3.0" stroke-linejoin="miter"/>
<path d="M428.0 1334.9L435.0 1341.9L428.0 1348.9L421.0 1341.9Z" fill="#a9a9a9" stroke="#222" stroke-width="3.0" stroke-linejoin="miter"/>
<path d="M382.8 1339.7L389.8 1346.7L382.8 1353.7L375.8 1346.7Z" fill="#a9a9a9" stroke="#222" stroke-width="3.0" stroke-linejoin="miter"/>
<path d="M443.1 1335.8L450.1 1342.8L443.1 1349.8L436.1 1342.8Z" fill="#a9a9a9" stroke="#222" stroke-width="3.0" stroke-linejoin="miter"/>
<path d="M458.7 1339.2L465.7 1346.2L458.7 1353.2L451.7 1346.2Z" fill="#a9a9a9" stroke="#222" stroke-width="3.0" stroke-linejoin="miter"/>
<path d="M407.6 1316.0L414.6 1323.0L407.6 1330.0L400.6 1323.0Z" fill="#a9a9a9" stroke="#222" stroke-width="3.0" stroke-linejoin="miter"/>
<path d="M422.2 1316.8L429.2 1323.8L422.2 1330.8L415.2 1323.8Z" fill="none" stroke="#222" stroke-width="3.0" stroke-linejoin="miter"/>
<path d="M417.1 1313.0L424.1 1320.0L417.1 1327.0L410.1 1320.0Z" fill="none" stroke="#222" stroke-width="3.0" stroke-linejoin="miter"/>
<path d="M415.3 1315.9L422.3 1322.9L415.3 1329.9L408.3 1322.9Z" fill="#a9a9a9" stroke="#222" stroke-width="3.0" stroke-linejoin="miter"/>
<path d="M412.4 1313.9L419.4 1320.9L412.4 1327.9L405.4 1320.9Z" fill="none" stroke="#222" stroke-width="3.0" stroke-linejoin="miter"/>
<path d="M419.1 1312.0L426.1 1319.0L419.1 1326.0L412.1 1319.0Z" fill="none" stroke="#222" stroke-width="3.0" stroke-linejoin="miter"/>
<path d="M420.3 1315.6L427.3 1322.6L420.3 1329.6L413.3 1322.6Z" fill="#a9a9a9" stroke="#222" stroke-width="3.0" stroke-linejoin="miter"/>
<path d="M426.0 1313.5L433.0 1320.5L426.0 1327.5L419.0 1320.5Z" fill="none" stroke="#222" stroke-width="3.0" stroke-linejoin="miter"/>
<path d="M410.2 1309.5L417.2 1316.5L410.2 1323.5L403.2 1316.5Z" fill="none" stroke="#222" stroke-width="3.0" stroke-linejoin="miter"/>
<path d="M413.9 1317.9L420.9 1324.9L413.9 1331.9L406.9 1324.9Z" fill="#a9a9a9" stroke="#222" stroke-width="3.0" stroke-linejoin="miter"/>
<path d="M411.0 1314.6L418.0 1321.6L411.0 1328.6L404.0 1321.6Z" fill="none" stroke="#222" stroke-width="3.0" stroke-linejoin="miter"/>
<path d="M421.5 1303.9L428.5 1310.9L421.5 1317.9L414.5 1310.9Z" fill="none" stroke="#222" stroke-width="3.0" stroke-linejoin="miter"/>
<path d="M405.2 1313.5L412.2 1320.5L405.2 1327.5L398.2 1320.5Z" fill="#a9a9a9" stroke="#222" stroke-width="3.0" stroke-linejoin="miter"/>
<path d="M417.6 1313.6L424.6 1320.6L417.6 1327.6L410.6 1320.6Z" fill="none" stroke="#222" stroke-width="3.0" stroke-linejoin="miter"/>
<path d="M410.3 1316.3L417.3 1323.3L410.3 1330.3L403.3 1323.3Z" fill="none" stroke="#222" stroke-width="3.0" stroke-linejoin="miter"/>
<path d="M416.5 1308.5L423.5 1315.5L416.5 1322.5L409.5 1315.5Z" fill="#a9a9a9" stroke="#222" stroke-width="3.0" stroke-linejoin="miter"/>
<path d="M426.5 1313.4L433.5 1320.4L426.5 1327.4L419.5 1320.4Z" fill="none" stroke="#222" stroke-width="3.0" stroke-linejoin="miter"/>
<path d="M409.1 1311.3L416.1 1318.3L409.1 1325.3L402.1 1318.3Z" fill="none" stroke="#222" stroke-width="3.0" stroke-linejoin="miter"/>
<path d="M411.9 1311.6L418.9 1318.6L411.9 1325.6L404.9 1318.6Z" fill="#a9a9a9" stroke="#222" stroke-width="3.0" stroke-linejoin="miter"/>
<path d="M401.3 1310.3L408.3 1317.3L401.3 1324.3L394.3 1317.3Z" fill="none" stroke="#222" stroke-width="3.0" stroke-linejoin="miter"/>
<path d="M421.1 1305.7L428.1 1312.7L421.1 1319.7L414.1 1312.7Z" fill="none" stroke="#222" stroke-width="3.0" stroke-linejoin="miter"/>
<path d="M413.5 1318.0L420.5 1325.0L413.5 1332.0L406.5 1325.0Z" fill="#a9a9a9" stroke="#222" stroke-width="3.0" stroke-linejoin="miter"/>
<path d="M419.7 1319.6L426.7 1326.6L419.7 1333.6L412.7 1326.6Z" fill="none" stroke="#222" stroke-width="3.0" stroke-linejoin="miter"/>
<path d="M402.8 1310.2L409.8 1317.2L402.8 1324.2L395.8 1317.2Z" fill="none" stroke="#222" stroke-width="3.0" stroke-linejoin="miter"/>
<path d="M411.1 1316.1L418.1 1323.1L411.1 1330.1L404.1 1323.1Z" fill="#a9a9a9" stroke="#222" stroke-width="3.0" stroke-linejoin="miter"/>
<path d="M418.9 1302.8L425.9 1309.8L418.9 1316.8L411.9 1309.8Z" fill="none" stroke="#222" stroke-width="3.0" stroke-linejoin="miter"/>
<path d="M441.6 1346.0L446.2 1354.0L437.0 1354.0Z" fill="#a9a9a9" stroke="#222" stroke-width="3.0" stroke-linejoin="miter"/>
<rect x="410.0" y="1316.0" width="8" height="8" fill="#000"/>
<rect x="416.8" y="1258.0" width="8.5" height="8.5" fill="#000"/>
<path d="M574.8 954.5L581.8 961.5L574.8 968.5L567.8 961.5Z" fill="#a9a9a9" stroke="#222" stroke-width="3.0" stroke-linejoin="miter"/>
<path d="M574.8 1024.8L579.4 1032.8L570.2 1032.8Z" fill="#a9a9a9" stroke="#222" stroke-width="3.0" stroke-linejoin="miter"/>
<rect x="570.3" y="1092.0" width="9" height="9" fill="#000"/>
<text transform="translate(592.5,972.5) scale(1.0,1.13)" font-size="26" text-anchor="start" font-family="Liberation Serif, serif" font-weight="bold" stroke="#000" stroke-width="0.3">Sauvignon</text>
<text transform="translate(592.5,1039.5) scale(1.0,1.13)" font-size="26" text-anchor="start" font-family="Liberation Serif, serif" font-weight="bold" stroke="#000" stroke-width="0.3">Chardonnay</text>
<text transform="translate(592.5,1107.5) scale(1.0,1.13)" font-size="26" text-anchor="start" font-family="Liberation Serif, serif" font-weight="bold" stroke="#000" stroke-width="0.3">Group Centroid</text>
<text transform="translate(436.0,1731.3) scale(1.0,1.16)" font-size="25.3" text-anchor="middle" font-family="Liberation Sans, sans-serif" font-weight="bold" stroke="#000" stroke-width="0.55">DF 1 (85.2 %)</text>
<text transform="translate(25.0,1268.0) rotate(-90) scale(1.0,1.07)" font-size="26.5" text-anchor="middle" font-family="Liberation Sans, sans-serif" font-weight="bold" stroke="#000" stroke-width="0.55">DF 2 (14.0 %)</text>
<path d="M952 4.5H1612.7V749.3" fill="none" stroke="#6c6c6c" stroke-width="2.8" stroke-linecap="square"/>
<path d="M952 4.5V749.3H1612.7" fill="none" stroke="#4c4c4c" stroke-width="3.0" stroke-linecap="square"/>
<line x1="1032.75" y1="749.3" x2="1032.75" y2="764.3" stroke="#333" stroke-width="2.4"/>
<text transform="translate(1032.2,789.3) scale(1.0,1.18)" font-size="25.5" text-anchor="middle" font-family="Liberation Serif, serif" font-weight="bold" stroke="#000" stroke-width="0.3">-40</text>
<line x1="1127" y1="749.3" x2="1127" y2="764.3" stroke="#333" stroke-width="2.4"/>
<text transform="translate(1126.5,789.3) scale(1.0,1.18)" font-size="25.5" text-anchor="middle" font-family="Liberation Serif, serif" font-weight="bold" stroke="#000" stroke-width="0.3">-20</text>
<line x1="1222" y1="749.3" x2="1222" y2="764.3" stroke="#333" stroke-width="2.4"/>
<text transform="translate(1222.0,789.3) scale(1.0,1.18)" font-size="25.5" text-anchor="middle" font-family="Liberation Serif, serif" font-weight="bold" stroke="#000" stroke-width="0.3">0</text>
<line x1="1317.4" y1="749.3" x2="1317.4" y2="764.3" stroke="#333" stroke-width="2.4"/>
<text transform="translate(1317.4,789.3) scale(1.0,1.18)" font-size="25.5" text-anchor="middle" font-family="Liberation Serif, serif" font-weight="bold" stroke="#000" stroke-width="0.3">20</text>
<line x1="1411.3" y1="749.3" x2="1411.3" y2="764.3" stroke="#333" stroke-width="2.4"/>
<text transform="translate(1411.3,789.3) scale(1.0,1.18)" font-size="25.5" text-anchor="middle" font-family="Liberation Serif, serif" font-weight="bold" stroke="#000" stroke-width="0.3">40</text>
<line x1="1507" y1="749.3" x2="1507" y2="764.3" stroke="#333" stroke-width="2.4"/>
<text transform="translate(1507.0,789.3) scale(1.0,1.18)" font-size="25.5" text-anchor="middle" font-family="Liberation Serif, serif" font-weight="bold" stroke="#000" stroke-width="0.3">60</text>
<line x1="1601.6" y1="749.3" x2="1601.6" y2="764.3" stroke="#333" stroke-width="2.4"/>
<text transform="translate(1601.6,789.3) scale(1.0,1.18)" font-size="25.5" text-anchor="middle" font-family="Liberation Serif, serif" font-weight="bold" stroke="#000" stroke-width="0.3">80</text>
<line x1="940" y1="42" x2="952" y2="42" stroke="#333" stroke-width="2.4"/>
<text transform="translate(938.3,53.2) scale(1.0,1.18)" font-size="25.5" text-anchor="end" font-family="Liberation Serif, serif" font-weight="bold" stroke="#000" stroke-width="0.3">50</text>
<line x1="940" y1="176.25" x2="952" y2="176.25" stroke="#333" stroke-width="2.4"/>
<text transform="translate(938.3,187.4) scale(1.0,1.18)" font-size="25.5" text-anchor="end" font-family="Liberation Serif, serif" font-weight="bold" stroke="#000" stroke-width="0.3">40</text>
<line x1="940" y1="310" x2="952" y2="310" stroke="#333" stroke-width="2.4"/>
<text transform="translate(938.3,321.2) scale(1.0,1.18)" font-size="25.5" text-anchor="end" font-family="Liberation Serif, serif" font-weight="bold" stroke="#000" stroke-width="0.3">30</text>
<line x1="940" y1="443.5" x2="952" y2="443.5" stroke="#333" stroke-width="2.4"/>
<text transform="translate(938.3,454.7) scale(1.0,1.18)" font-size="25.5" text-anchor="end" font-family="Liberation Serif, serif" font-weight="bold" stroke="#000" stroke-width="0.3">20</text>
<line x1="940" y1="577.75" x2="952" y2="577.75" stroke="#333" stroke-width="2.4"/>
<text transform="translate(938.3,589.0) scale(1.0,1.18)" font-size="25.5" text-anchor="end" font-family="Liberation Serif, serif" font-weight="bold" stroke="#000" stroke-width="0.3">10</text>
<line x1="940" y1="711.75" x2="952" y2="711.75" stroke="#333" stroke-width="2.4"/>
<text transform="translate(938.3,723.0) scale(1.0,1.18)" font-size="25.5" text-anchor="end" font-family="Liberation Serif, serif" font-weight="bold" stroke="#000" stroke-width="0.3">0</text>
<text transform="translate(1005.5,36.5) scale(1.0,1.1)" font-size="24" text-anchor="start" font-family="Liberation Serif, serif" font-weight="bold" stroke="#000" stroke-width="0.3">c)</text>
<path d="M1038.2 116.9L1043.8 122.4L1038.2 127.9L1032.8 122.4Z" fill="#fff" stroke="#222" stroke-width="2.6" stroke-linejoin="miter"/>
<path d="M1035.0 130.3L1040.5 135.8L1035.0 141.3L1029.5 135.8Z" fill="#fff" stroke="#222" stroke-width="2.6" stroke-linejoin="miter"/>
<path d="M1044.0 157.1L1049.5 162.6L1044.0 168.1L1038.5 162.6Z" fill="#fff" stroke="#222" stroke-width="2.6" stroke-linejoin="miter"/>
<path d="M1041.0 183.8L1046.5 189.3L1041.0 194.8L1035.5 189.3Z" fill="#fff" stroke="#222" stroke-width="2.6" stroke-linejoin="miter"/>
<path d="M1039.0 197.2L1044.5 202.7L1039.0 208.2L1033.5 202.7Z" fill="#fff" stroke="#222" stroke-width="2.6" stroke-linejoin="miter"/>
<path d="M1042.0 237.4L1047.5 242.9L1042.0 248.4L1036.5 242.9Z" fill="#fff" stroke="#222" stroke-width="2.6" stroke-linejoin="miter"/>
<path d="M1038.5 264.2L1044.0 269.7L1038.5 275.2L1033.0 269.7Z" fill="#fff" stroke="#222" stroke-width="2.6" stroke-linejoin="miter"/>
<path d="M1036.0 277.6L1041.5 283.1L1036.0 288.6L1030.5 283.1Z" fill="#fff" stroke="#222" stroke-width="2.6" stroke-linejoin="miter"/>
<path d="M1033.0 304.4L1038.5 309.9L1033.0 315.4L1027.5 309.9Z" fill="#fff" stroke="#222" stroke-width="2.6" stroke-linejoin="miter"/>
<path d="M1033.0 331.2L1038.5 336.7L1033.0 342.2L1027.5 336.7Z" fill="#fff" stroke="#222" stroke-width="2.6" stroke-linejoin="miter"/>
<path d="M1041.5 344.6L1047.0 350.1L1041.5 355.6L1036.0 350.1Z" fill="#fff" stroke="#222" stroke-width="2.6" stroke-linejoin="miter"/>
<path d="M1042.0 398.2L1047.5 403.7L1042.0 409.2L1036.5 403.7Z" fill="#fff" stroke="#222" stroke-width="2.6" stroke-linejoin="miter"/>
<path d="M1042.0 411.6L1047.5 417.1L1042.0 422.6L1036.5 417.1Z" fill="#fff" stroke="#222" stroke-width="2.6" stroke-linejoin="miter"/>
<path d="M1039.5 425.0L1045.0 430.5L1039.5 436.0L1034.0 430.5Z" fill="#fff" stroke="#222" stroke-width="2.6" stroke-linejoin="miter"/>
<path d="M1038.0 438.4L1043.5 443.9L1038.0 449.4L1032.5 443.9Z" fill="#fff" stroke="#222" stroke-width="2.6" stroke-linejoin="miter"/>
<path d="M1040.0 451.7L1045.5 457.2L1040.0 462.7L1034.5 457.2Z" fill="#fff" stroke="#222" stroke-width="2.6" stroke-linejoin="miter"/>
<path d="M1034.0 478.5L1039.5 484.0L1034.0 489.5L1028.5 484.0Z" fill="#fff" stroke="#222" stroke-width="2.6" stroke-linejoin="miter"/>
<path d="M1029.5 505.3L1035.0 510.8L1029.5 516.3L1024.0 510.8Z" fill="#fff" stroke="#222" stroke-width="2.6" stroke-linejoin="miter"/>
<path d="M1042.5 518.7L1048.0 524.2L1042.5 529.7L1037.0 524.2Z" fill="#fff" stroke="#222" stroke-width="2.6" stroke-linejoin="miter"/>
<path d="M1036.0 545.5L1041.5 551.0L1036.0 556.5L1030.5 551.0Z" fill="#fff" stroke="#222" stroke-width="2.6" stroke-linejoin="miter"/>
<path d="M1036.0 599.1L1041.5 604.6L1036.0 610.1L1030.5 604.6Z" fill="#fff" stroke="#222" stroke-width="2.6" stroke-linejoin="miter"/>
<path d="M1043.8 612.5L1049.2 618.0L1043.8 623.5L1038.2 618.0Z" fill="#fff" stroke="#222" stroke-width="2.6" stroke-linejoin="miter"/>
<path d="M1043.0 625.9L1048.5 631.4L1043.0 636.9L1037.5 631.4Z" fill="#fff" stroke="#222" stroke-width="2.6" stroke-linejoin="miter"/>
<path d="M1035.8 639.3L1041.2 644.8L1035.8 650.3L1030.2 644.8Z" fill="#fff" stroke="#222" stroke-width="2.6" stroke-linejoin="miter"/>
<path d="M1043.8 652.7L1049.2 658.2L1043.8 663.7L1038.2 658.2Z" fill="#fff" stroke="#222" stroke-width="2.6" stroke-linejoin="miter"/>
<path d="M1043.0 666.1L1048.5 671.6L1043.0 677.1L1037.5 671.6Z" fill="#fff" stroke="#222" stroke-width="2.6" stroke-linejoin="miter"/>
<path d="M1040.0 679.5L1045.5 685.0L1040.0 690.5L1034.5 685.0Z" fill="#fff" stroke="#222" stroke-width="2.6" stroke-linejoin="miter"/>
<path d="M1044.0 692.9L1049.5 698.4L1044.0 703.9L1038.5 698.4Z" fill="#fff" stroke="#222" stroke-width="2.6" stroke-linejoin="miter"/>
<circle cx="1506.0" cy="95.6" r="5.3" fill="#a0a0a0" stroke="#222" stroke-width="2.8"/>
<circle cx="1511.5" cy="109.0" r="5.3" fill="#a0a0a0" stroke="#222" stroke-width="2.8"/>
<circle cx="1509.0" cy="149.2" r="5.3" fill="#a0a0a0" stroke="#222" stroke-width="2.8"/>
<circle cx="1507.0" cy="176.0" r="5.3" fill="#a0a0a0" stroke="#222" stroke-width="2.8"/>
<circle cx="1507.7" cy="216.1" r="5.3" fill="#a0a0a0" stroke="#222" stroke-width="2.8"/>
<circle cx="1501.0" cy="229.5" r="5.3" fill="#a0a0a0" stroke="#222" stroke-width="2.8"/>
<circle cx="1512.0" cy="256.3" r="5.3" fill="#a0a0a0" stroke="#222" stroke-width="2.8"/>
<circle cx="1511.0" cy="296.5" r="5.3" fill="#a0a0a0" stroke="#222" stroke-width="2.8"/>
<circle cx="1509.7" cy="323.3" r="5.3" fill="#a0a0a0" stroke="#222" stroke-width="2.8"/>
<circle cx="1498.5" cy="363.5" r="5.3" fill="#a0a0a0" stroke="#222" stroke-width="2.8"/>
<circle cx="1515.5" cy="376.9" r="5.3" fill="#a0a0a0" stroke="#222" stroke-width="2.8"/>
<circle cx="1511.0" cy="390.3" r="5.3" fill="#a0a0a0" stroke="#222" stroke-width="2.8"/>
<circle cx="1506.0" cy="470.6" r="5.3" fill="#a0a0a0" stroke="#222" stroke-width="2.8"/>
<circle cx="1515.5" cy="497.4" r="5.3" fill="#a0a0a0" stroke="#222" stroke-width="2.8"/>
<circle cx="1494.0" cy="537.6" r="5.3" fill="#a0a0a0" stroke="#222" stroke-width="2.8"/>
<circle cx="1501.0" cy="564.4" r="5.3" fill="#a0a0a0" stroke="#222" stroke-width="2.8"/>
<circle cx="1512.7" cy="577.8" r="5.3" fill="#a0a0a0" stroke="#222" stroke-width="2.8"/>
<circle cx="1504.7" cy="591.2" r="5.3" fill="#a0a0a0" stroke="#222" stroke-width="2.8"/>
<path d="M1124.0 65.5L1129.5 71.0L1124.0 76.5L1118.5 71.0Z" fill="#fff" stroke="#222" stroke-width="2.6" stroke-linejoin="miter"/>
<circle cx="1124.0" cy="102.5" r="5.3" fill="#a0a0a0" stroke="#222" stroke-width="2.8"/>
<text transform="translate(1142.0,81.0) scale(1.0,1.13)" font-size="24.3" text-anchor="start" font-family="Liberation Serif, serif" font-weight="bold" stroke="#000" stroke-width="0.3">Sauvignon</text>
<text transform="translate(1142.0,112.5) scale(1.0,1.13)" font-size="24.3" text-anchor="start" font-family="Liberation Serif, serif" font-weight="bold" stroke="#000" stroke-width="0.3">Chardonnay</text>
<text transform="translate(1086.5,832.0) scale(1.0,1.13)" font-size="24.75" text-anchor="start" font-family="Liberation Serif, serif" font-weight="bold" stroke="#000" stroke-width="0.3">Discriminant Scores from Function 1</text>
<text transform="translate(894.0,376.0) rotate(-90) scale(1.0,1.15)" font-size="25.9" text-anchor="middle" font-family="Liberation Serif, serif" font-weight="bold" stroke="#000" stroke-width="0.3">Sample_number</text>
<path d="M955.9 892.5H1641.5V1667.2" fill="none" stroke="#6c6c6c" stroke-width="2.8" stroke-linecap="square"/>
<path d="M955.9 892.5V1667.2H1641.5" fill="none" stroke="#4c4c4c" stroke-width="3.0" stroke-linecap="square"/>
<line x1="989.8" y1="1667.2" x2="989.8" y2="1682.2" stroke="#333" stroke-width="2.4"/>
<text transform="translate(989.3,1709.8) scale(1.0,1.18)" font-size="27.5" text-anchor="middle" font-family="Liberation Serif, serif" font-weight="bold" stroke="#000" stroke-width="0.3">-10</text>
<line x1="1165.7" y1="1667.2" x2="1165.7" y2="1682.2" stroke="#333" stroke-width="2.4"/>
<text transform="translate(1165.7,1709.8) scale(1.0,1.18)" font-size="27.5" text-anchor="middle" font-family="Liberation Serif, serif" font-weight="bold" stroke="#000" stroke-width="0.3">0</text>
<line x1="1341.8" y1="1667.2" x2="1341.8" y2="1682.2" stroke="#333" stroke-width="2.4"/>
<text transform="translate(1341.8,1709.8) scale(1.0,1.18)" font-size="27.5" text-anchor="middle" font-family="Liberation Serif, serif" font-weight="bold" stroke="#000" stroke-width="0.3">10</text>
<line x1="1518.2" y1="1667.2" x2="1518.2" y2="1682.2" stroke="#333" stroke-width="2.4"/>
<text transform="translate(1518.2,1709.8) scale(1.0,1.18)" font-size="27.5" text-anchor="middle" font-family="Liberation Serif, serif" font-weight="bold" stroke="#000" stroke-width="0.3">20</text>
<line x1="943.9" y1="995" x2="955.9" y2="995" stroke="#333" stroke-width="2.4"/>
<text transform="translate(942.5,1007.2) scale(1.0,1.18)" font-size="27.5" text-anchor="end" font-family="Liberation Serif, serif" font-weight="bold" stroke="#000" stroke-width="0.3">50</text>
<line x1="943.9" y1="1122" x2="955.9" y2="1122" stroke="#333" stroke-width="2.4"/>
<text transform="translate(942.5,1134.2) scale(1.0,1.18)" font-size="27.5" text-anchor="end" font-family="Liberation Serif, serif" font-weight="bold" stroke="#000" stroke-width="0.3">40</text>
<line x1="943.9" y1="1248.75" x2="955.9" y2="1248.75" stroke="#333" stroke-width="2.4"/>
<text transform="translate(942.5,1261.0) scale(1.0,1.18)" font-size="27.5" text-anchor="end" font-family="Liberation Serif, serif" font-weight="bold" stroke="#000" stroke-width="0.3">30</text>
<line x1="943.9" y1="1375.8" x2="955.9" y2="1375.8" stroke="#333" stroke-width="2.4"/>
<text transform="translate(942.5,1388.0) scale(1.0,1.18)" font-size="27.5" text-anchor="end" font-family="Liberation Serif, serif" font-weight="bold" stroke="#000" stroke-width="0.3">20</text>
<line x1="943.9" y1="1502" x2="955.9" y2="1502" stroke="#333" stroke-width="2.4"/>
<text transform="translate(942.5,1514.2) scale(1.0,1.18)" font-size="27.5" text-anchor="end" font-family="Liberation Serif, serif" font-weight="bold" stroke="#000" stroke-width="0.3">10</text>
<line x1="943.9" y1="1629" x2="955.9" y2="1629" stroke="#333" stroke-width="2.4"/>
<text transform="translate(942.5,1641.2) scale(1.0,1.18)" font-size="27.5" text-anchor="end" font-family="Liberation Serif, serif" font-weight="bold" stroke="#000" stroke-width="0.3">0</text>
<text transform="translate(1005.5,929.5) scale(1.0,1.17)" font-size="25" text-anchor="start" font-family="Liberation Serif, serif" font-weight="bold" stroke="#000" stroke-width="0.3">d)</text>
<path d="M1039.5 976.8L1045.0 982.3L1039.5 987.8L1034.0 982.3Z" fill="#fff" stroke="#222" stroke-width="2.6" stroke-linejoin="miter"/>
<path d="M1037.5 989.5L1043.0 995.0L1037.5 1000.5L1032.0 995.0Z" fill="#fff" stroke="#222" stroke-width="2.6" stroke-linejoin="miter"/>
<path d="M1030.0 1002.1L1035.5 1007.6L1030.0 1013.1L1024.5 1007.6Z" fill="#fff" stroke="#222" stroke-width="2.6" stroke-linejoin="miter"/>
<path d="M1043.2 1014.8L1048.8 1020.3L1043.2 1025.8L1037.8 1020.3Z" fill="#fff" stroke="#222" stroke-width="2.6" stroke-linejoin="miter"/>
<path d="M1036.2 1027.5L1041.8 1033.0L1036.2 1038.5L1030.8 1033.0Z" fill="#fff" stroke="#222" stroke-width="2.6" stroke-linejoin="miter"/>
<path d="M1029.5 1040.2L1035.0 1045.7L1029.5 1051.2L1024.0 1045.7Z" fill="#fff" stroke="#222" stroke-width="2.6" stroke-linejoin="miter"/>
<path d="M1040.0 1052.9L1045.5 1058.4L1040.0 1063.9L1034.5 1058.4Z" fill="#fff" stroke="#222" stroke-width="2.6" stroke-linejoin="miter"/>
<path d="M1039.5 1065.6L1045.0 1071.1L1039.5 1076.6L1034.0 1071.1Z" fill="#fff" stroke="#222" stroke-width="2.6" stroke-linejoin="miter"/>
<path d="M1035.0 1078.2L1040.5 1083.7L1035.0 1089.2L1029.5 1083.7Z" fill="#fff" stroke="#222" stroke-width="2.6" stroke-linejoin="miter"/>
<path d="M1029.0 1090.9L1034.5 1096.4L1029.0 1101.9L1023.5 1096.4Z" fill="#fff" stroke="#222" stroke-width="2.6" stroke-linejoin="miter"/>
<path d="M1048.8 1103.6L1054.2 1109.1L1048.8 1114.6L1043.2 1109.1Z" fill="#fff" stroke="#222" stroke-width="2.6" stroke-linejoin="miter"/>
<path d="M1031.5 1116.3L1037.0 1121.8L1031.5 1127.3L1026.0 1121.8Z" fill="#fff" stroke="#222" stroke-width="2.6" stroke-linejoin="miter"/>
<path d="M1047.0 1129.0L1052.5 1134.5L1047.0 1140.0L1041.5 1134.5Z" fill="#fff" stroke="#222" stroke-width="2.6" stroke-linejoin="miter"/>
<path d="M1034.0 1141.7L1039.5 1147.2L1034.0 1152.7L1028.5 1147.2Z" fill="#fff" stroke="#222" stroke-width="2.6" stroke-linejoin="miter"/>
<path d="M1039.5 1154.4L1045.0 1159.9L1039.5 1165.4L1034.0 1159.9Z" fill="#fff" stroke="#222" stroke-width="2.6" stroke-linejoin="miter"/>
<path d="M1014.0 1179.7L1019.5 1185.2L1014.0 1190.7L1008.5 1185.2Z" fill="#fff" stroke="#222" stroke-width="2.6" stroke-linejoin="miter"/>
<path d="M1040.8 1192.4L1046.2 1197.9L1040.8 1203.4L1035.2 1197.9Z" fill="#fff" stroke="#222" stroke-width="2.6" stroke-linejoin="miter"/>
<path d="M1060.8 1217.8L1066.2 1223.3L1060.8 1228.8L1055.2 1223.3Z" fill="#fff" stroke="#222" stroke-width="2.6" stroke-linejoin="miter"/>
<path d="M1028.8 1243.2L1034.2 1248.7L1028.8 1254.2L1023.2 1248.7Z" fill="#fff" stroke="#222" stroke-width="2.6" stroke-linejoin="miter"/>
<path d="M1030.2 1255.8L1035.8 1261.3L1030.2 1266.8L1024.8 1261.3Z" fill="#fff" stroke="#222" stroke-width="2.6" stroke-linejoin="miter"/>
<path d="M1080.2 1281.2L1085.8 1286.7L1080.2 1292.2L1074.8 1286.7Z" fill="#fff" stroke="#222" stroke-width="2.6" stroke-linejoin="miter"/>
<path d="M1055.8 1293.9L1061.2 1299.4L1055.8 1304.9L1050.2 1299.4Z" fill="#fff" stroke="#222" stroke-width="2.6" stroke-linejoin="miter"/>
<path d="M1032.3 1319.3L1037.8 1324.8L1032.3 1330.3L1026.8 1324.8Z" fill="#fff" stroke="#222" stroke-width="2.6" stroke-linejoin="miter"/>
<path d="M1049.4 1344.6L1054.9 1350.1L1049.4 1355.6L1043.9 1350.1Z" fill="#fff" stroke="#222" stroke-width="2.6" stroke-linejoin="miter"/>
<path d="M1028.0 1370.0L1033.5 1375.5L1028.0 1381.0L1022.5 1375.5Z" fill="#fff" stroke="#222" stroke-width="2.6" stroke-linejoin="miter"/>
<path d="M1025.5 1382.7L1031.0 1388.2L1025.5 1393.7L1020.0 1388.2Z" fill="#fff" stroke="#222" stroke-width="2.6" stroke-linejoin="miter"/>
<path d="M1031.3 1395.4L1036.8 1400.9L1031.3 1406.4L1025.8 1400.9Z" fill="#fff" stroke="#222" stroke-width="2.6" stroke-linejoin="miter"/>
<path d="M1012.2 1420.7L1017.7 1426.2L1012.2 1431.7L1006.7 1426.2Z" fill="#fff" stroke="#222" stroke-width="2.6" stroke-linejoin="miter"/>
<path d="M1036.8 1433.4L1042.3 1438.9L1036.8 1444.4L1031.3 1438.9Z" fill="#fff" stroke="#222" stroke-width="2.6" stroke-linejoin="miter"/>
<path d="M1049.4 1446.1L1054.9 1451.6L1049.4 1457.1L1043.9 1451.6Z" fill="#fff" stroke="#222" stroke-width="2.6" stroke-linejoin="miter"/>
<path d="M1066.2 1471.5L1071.7 1477.0L1066.2 1482.5L1060.7 1477.0Z" fill="#fff" stroke="#222" stroke-width="2.6" stroke-linejoin="miter"/>
<path d="M1031.3 1484.2L1036.8 1489.7L1031.3 1495.2L1025.8 1489.7Z" fill="#fff" stroke="#222" stroke-width="2.6" stroke-linejoin="miter"/>
<path d="M1036.8 1509.5L1042.3 1515.0L1036.8 1520.5L1031.3 1515.0Z" fill="#fff" stroke="#222" stroke-width="2.6" stroke-linejoin="miter"/>
<path d="M1073.3 1534.9L1078.8 1540.4L1073.3 1545.9L1067.8 1540.4Z" fill="#fff" stroke="#222" stroke-width="2.6" stroke-linejoin="miter"/>
<path d="M1042.4 1547.6L1047.9 1553.1L1042.4 1558.6L1036.9 1553.1Z" fill="#fff" stroke="#222" stroke-width="2.6" stroke-linejoin="miter"/>
<path d="M990.3 1573.0L995.8 1578.5L990.3 1584.0L984.8 1578.5Z" fill="#fff" stroke="#222" stroke-width="2.6" stroke-linejoin="miter"/>
<path d="M1046.4 1598.3L1051.9 1603.8L1046.4 1609.3L1040.9 1603.8Z" fill="#fff" stroke="#222" stroke-width="2.6" stroke-linejoin="miter"/>
<path d="M1051.1 1611.0L1056.6 1616.5L1051.1 1622.0L1045.6 1616.5Z" fill="#fff" stroke="#222" stroke-width="2.6" stroke-linejoin="miter"/>
<circle cx="1525.5" cy="1172.5" r="5.6" fill="#f0f0f0" stroke="#222" stroke-width="2.6"/>
<circle cx="1570.6" cy="1210.6" r="5.6" fill="#f0f0f0" stroke="#222" stroke-width="2.6"/>
<circle cx="1536.0" cy="1236.0" r="5.6" fill="#f0f0f0" stroke="#222" stroke-width="2.6"/>
<circle cx="1571.0" cy="1274.0" r="5.6" fill="#f0f0f0" stroke="#222" stroke-width="2.6"/>
<circle cx="1522.3" cy="1312.1" r="5.6" fill="#f0f0f0" stroke="#222" stroke-width="2.6"/>
<circle cx="1524.0" cy="1337.4" r="5.6" fill="#f0f0f0" stroke="#222" stroke-width="2.6"/>
<circle cx="1515.0" cy="1362.8" r="5.6" fill="#f0f0f0" stroke="#222" stroke-width="2.6"/>
<circle cx="1552.6" cy="1413.6" r="5.6" fill="#f0f0f0" stroke="#222" stroke-width="2.6"/>
<circle cx="1579.2" cy="1464.3" r="5.6" fill="#f0f0f0" stroke="#222" stroke-width="2.6"/>
<circle cx="1533.3" cy="1502.4" r="5.6" fill="#f0f0f0" stroke="#222" stroke-width="2.6"/>
<circle cx="1542.0" cy="1527.7" r="5.6" fill="#f0f0f0" stroke="#222" stroke-width="2.6"/>
<circle cx="1528.7" cy="1565.8" r="5.6" fill="#f0f0f0" stroke="#222" stroke-width="2.6"/>
<circle cx="1521.2" cy="1591.1" r="5.6" fill="#f0f0f0" stroke="#222" stroke-width="2.6"/>
<path d="M1439.6 970.5L1445.1 976.0L1439.6 981.5L1434.1 976.0Z" fill="#fff" stroke="#222" stroke-width="2.6" stroke-linejoin="miter"/>
<circle cx="1439.6" cy="1008.5" r="5.6" fill="#f0f0f0" stroke="#222" stroke-width="2.6"/>
<text transform="translate(1456.6,986.0) scale(1.0,1.13)" font-size="25.3" text-anchor="start" font-family="Liberation Serif, serif" font-weight="bold" stroke="#000" stroke-width="0.3">Sauvignon</text>
<text transform="translate(1456.6,1018.5) scale(1.0,1.13)" font-size="25.3" text-anchor="start" font-family="Liberation Serif, serif" font-weight="bold" stroke="#000" stroke-width="0.3">Chardonnay</text>
<text transform="translate(1095.9,1754.0) scale(1.0,1.16)" font-size="25.7" text-anchor="start" font-family="Liberation Serif, serif" font-weight="bold" stroke="#000" stroke-width="0.3">Discriminant Scores from Function 1</text>
<text transform="translate(896.0,1280.3) rotate(-90) scale(1.0,1.1)" font-size="27.1" text-anchor="middle" font-family="Liberation Serif, serif" font-weight="bold" stroke="#000" stroke-width="0.3">Sample_number</text>
</svg></body></html>
